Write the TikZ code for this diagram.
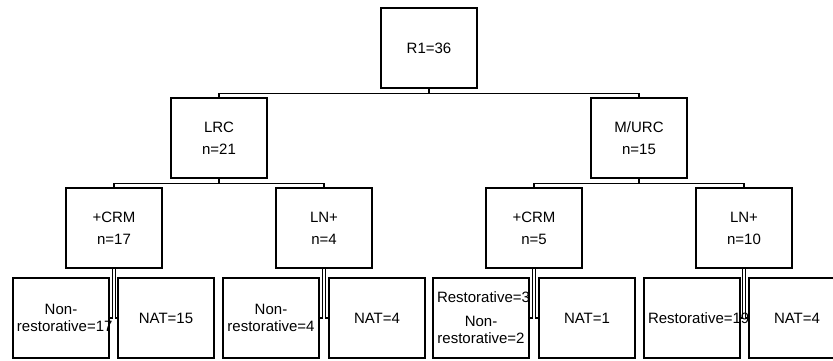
\documentclass[tikz,border=0pt]{standalone}
\usepackage{fontspec}
\setmainfont{Liberation Sans}
\usetikzlibrary{positioning}

\begin{document}
\begin{tikzpicture}[x=0.5pt, y=-0.5pt, line width=.6pt,
    box/.style={draw, line width=.7pt, minimum width=48pt, minimum height=40pt,
      inner sep=0pt, text width=44pt, align=center,
      font=\fontsize{7.5pt}{8.5pt}\selectfont}]
    \useasboundingbox (0,0) rectangle (833,360);
    % levels
    \node[box] (root) at (429,48) {R1=36};
    \node[box] (lrc) at (219,138) {LRC\\[2.5pt]n=21};
    \node[box] (murc) at (639,138) {M/URC\\[2.5pt]n=15};
    \node[box] (lcrm) at (114,228) {+CRM\\[2.5pt]n=17};
    \node[box] (lln) at (324,228) {LN+\\[2.5pt]n=4};
    \node[box] (rcrm) at (534,228) {+CRM\\[2.5pt]n=5};
    \node[box] (rln) at (744,228) {LN+\\[2.5pt]n=10};
    % leaves
    \node[box] (lcrma) at (61,318) {Non-\\restorative=17};
    \node[box] (lcrmb) at (166,318) {NAT=15};
    \node[box] (llna) at (271,318) {Non-\\restorative=4};
    \node[box] (llnb) at (377,318) {NAT=4};
    \node[box] (rcrma) at (481,318) {Restorative=3\\[3.5pt]Non-\\restorative=2};
    \node[box] (rcrmb) at (587,318) {NAT=1};
    \node[box] (rlna) at (692,318) {Restorative=19};
    \node[box] (rlnb) at (797,318) {NAT=4};
    % connectors
    \foreach \p/\a/\b in {root/lrc/murc, lrc/lcrm/lln, murc/rcrm/rln} {
      \draw (\p.south) -- ++(0,5) -| (\a.north);
      \draw (\p.south) -- ++(0,5) -| (\b.north);
    }
    \foreach \p in {lcrm, lln, rcrm, rln} {
      \draw ([xshift=-.75pt]\p.south) |- (\p a.east);
      \draw ([xshift=.75pt]\p.south) |- (\p b.west);
    }
  \end{tikzpicture}
\end{document}
